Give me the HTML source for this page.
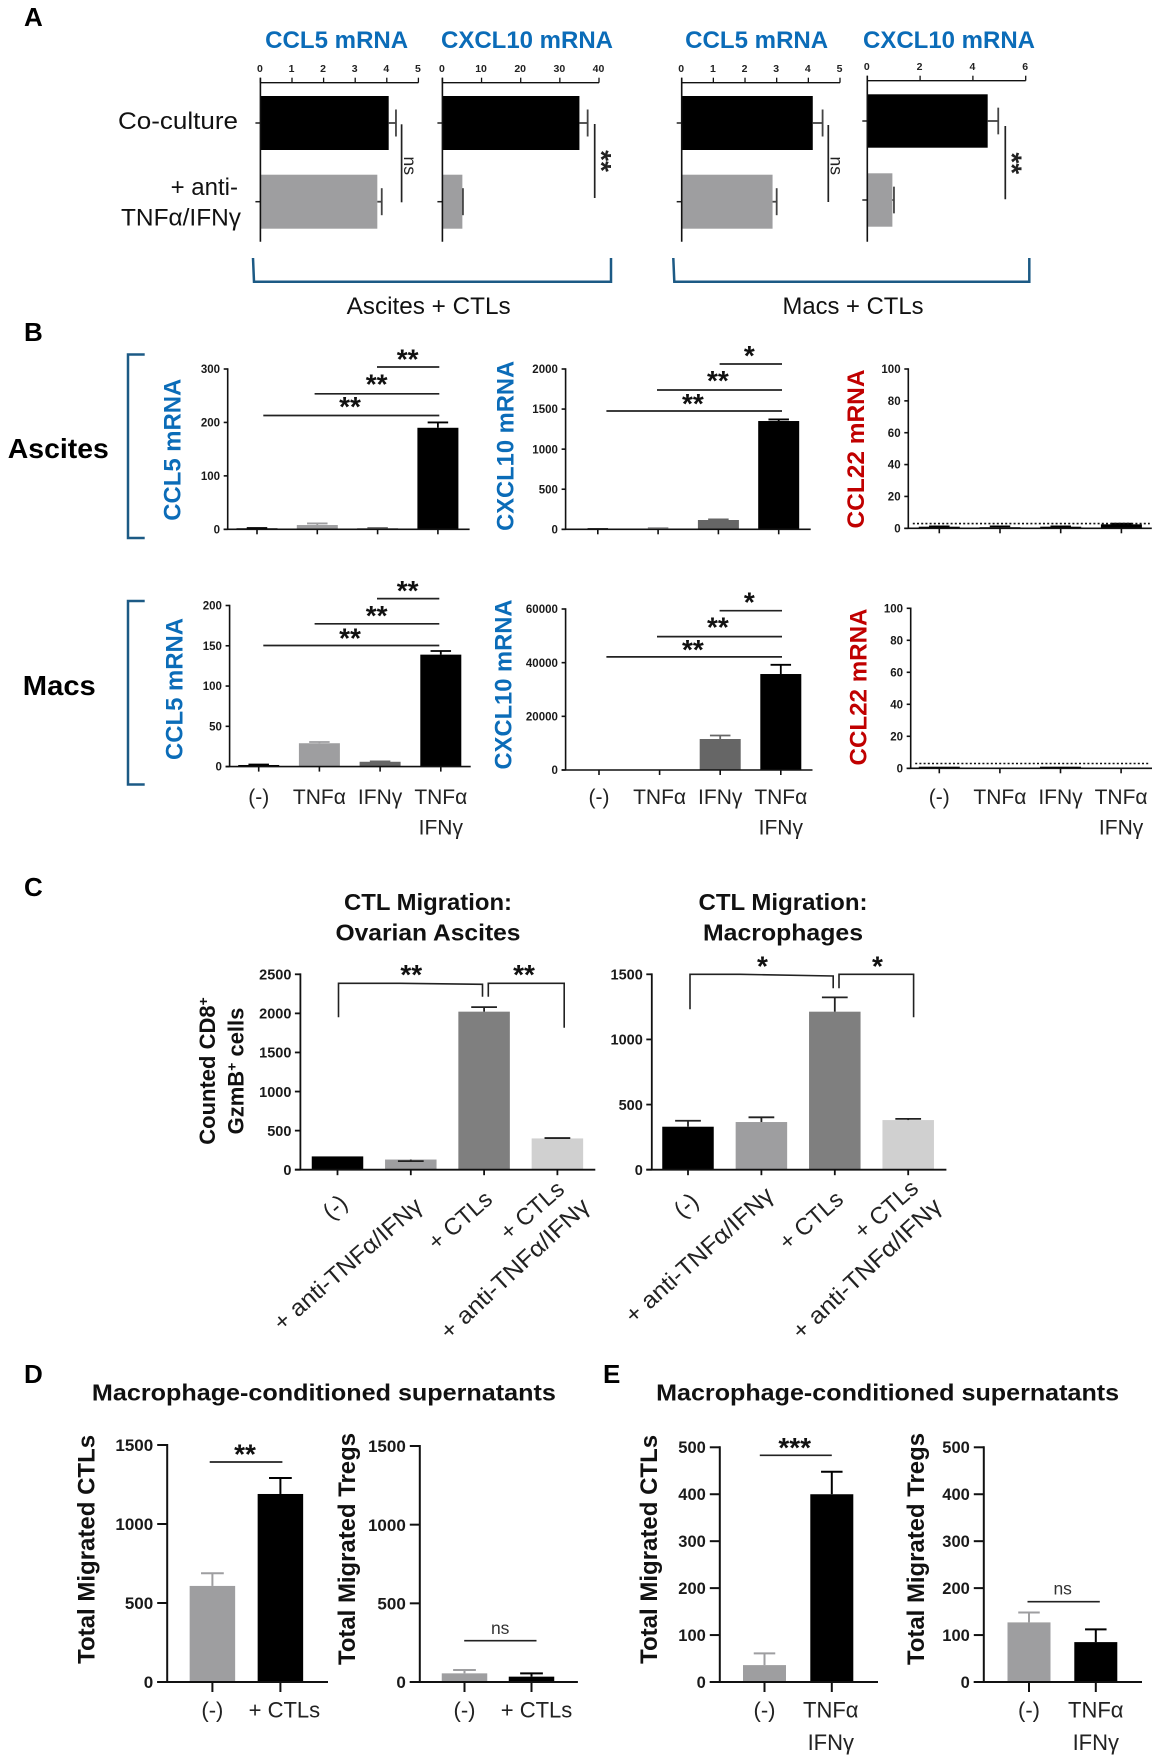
<!DOCTYPE html>
<html lang="en">
<head>
<meta charset="utf-8">
<title>CTL chemokine and migration figure</title>
<style>
html,body{margin:0;padding:0;background:#fff;}
#figure{display:block;width:1160px;height:1762px;filter:blur(0.35px);}
text{font-family:"Liberation Sans",sans-serif;fill:#111;}
.letter{font-size:26px;font-weight:bold;fill:#000;}
.blue{font-size:24px;font-weight:bold;fill:#0b6cb8;}
.red{font-size:24px;font-weight:bold;fill:#c00000;}
.reg24{font-size:24px;}
.title{font-size:23px;font-weight:bold;}
.rowlab{font-size:28px;font-weight:bold;fill:#000;}
.ytitle{font-size:24px;font-weight:bold;}
.ytitle22{font-size:22px;font-weight:bold;}
.rot{font-size:23.5px;fill:#222;}
</style>
</head>
<body>
<svg id="figure" xmlns="http://www.w3.org/2000/svg" width="1160" height="1762" viewBox="0 0 1160 1762">
  <rect x="0" y="0" width="1160" height="1762" fill="#fff"/>

  <!-- panel letters -->
  <text class="letter" x="24" y="26">A</text>
  <text class="letter" x="24" y="341">B</text>
  <text class="letter" x="24" y="896">C</text>
  <text class="letter" x="24" y="1383">D</text>
  <text class="letter" x="603" y="1383">E</text>

  <!-- panel A static text -->
  <text class="blue" x="336.7" y="48" text-anchor="middle" textLength="143" lengthAdjust="spacingAndGlyphs">CCL5 mRNA</text>
  <text class="blue" x="527" y="48" text-anchor="middle" textLength="172" lengthAdjust="spacingAndGlyphs">CXCL10 mRNA</text>
  <text class="blue" x="756.7" y="48" text-anchor="middle" textLength="143" lengthAdjust="spacingAndGlyphs">CCL5 mRNA</text>
  <text class="blue" x="949" y="48" text-anchor="middle" textLength="172" lengthAdjust="spacingAndGlyphs">CXCL10 mRNA</text>
  <text class="reg24" x="238" y="129" text-anchor="end" textLength="120" lengthAdjust="spacingAndGlyphs">Co-culture</text>
  <text class="reg24" x="238" y="195" text-anchor="end">+ anti-</text>
  <text class="reg24" x="241" y="225.5" text-anchor="end" textLength="120" lengthAdjust="spacingAndGlyphs">TNFα/IFNγ</text>
  <path d="M253 258 L254 281.7 L611 281.7 L611 258" fill="none" stroke="#1c5a85" stroke-width="2.5"/>
  <path d="M673.3 258 L674.3 281.7 L1029.3 281.7 L1029.3 258" fill="none" stroke="#1c5a85" stroke-width="2.5"/>
  <text class="reg24" x="428.6" y="314" text-anchor="middle" textLength="164" lengthAdjust="spacingAndGlyphs">Ascites + CTLs</text>
  <text class="reg24" x="853" y="314" text-anchor="middle" textLength="141" lengthAdjust="spacingAndGlyphs">Macs + CTLs</text>

  <!-- panel B static text -->
  <text class="rowlab" x="58.3" y="458" text-anchor="middle" textLength="101" lengthAdjust="spacingAndGlyphs">Ascites</text>
  <text class="rowlab" x="59.3" y="695" text-anchor="middle" textLength="73" lengthAdjust="spacingAndGlyphs">Macs</text>
  <path d="M144.7 354.5 H128 V538 H144.7" fill="none" stroke="#1c5a85" stroke-width="2.5"/>
  <path d="M144.7 601 H128 V784.5 H144.7" fill="none" stroke="#1c5a85" stroke-width="2.5"/>
  <text class="blue" transform="translate(172,449.7) rotate(-90)" text-anchor="middle" dy=".36em" textLength="142" lengthAdjust="spacingAndGlyphs">CCL5 mRNA</text>
  <text class="blue" transform="translate(505,445.9) rotate(-90)" text-anchor="middle" dy=".36em" textLength="170" lengthAdjust="spacingAndGlyphs">CXCL10 mRNA</text>
  <text class="red" transform="translate(855.4,449) rotate(-90)" text-anchor="middle" dy=".36em" textLength="159" lengthAdjust="spacingAndGlyphs">CCL22 mRNA</text>
  <text class="blue" transform="translate(174,689) rotate(-90)" text-anchor="middle" dy=".36em" textLength="142" lengthAdjust="spacingAndGlyphs">CCL5 mRNA</text>
  <text class="blue" transform="translate(503,684.5) rotate(-90)" text-anchor="middle" dy=".36em" textLength="170" lengthAdjust="spacingAndGlyphs">CXCL10 mRNA</text>
  <text class="red" transform="translate(857.9,687) rotate(-90)" text-anchor="middle" dy=".36em" textLength="157" lengthAdjust="spacingAndGlyphs">CCL22 mRNA</text>

  <!-- panel C static text -->
  <text class="title" x="428" y="910" text-anchor="middle" textLength="168" lengthAdjust="spacingAndGlyphs">CTL Migration:</text>
  <text class="title" x="428" y="940.5" text-anchor="middle" textLength="185" lengthAdjust="spacingAndGlyphs">Ovarian Ascites</text>
  <text class="title" x="783" y="910" text-anchor="middle" textLength="169" lengthAdjust="spacingAndGlyphs">CTL Migration:</text>
  <text class="title" x="783" y="940.5" text-anchor="middle" textLength="160" lengthAdjust="spacingAndGlyphs">Macrophages</text>
  <text class="ytitle22" transform="translate(207,1071) rotate(-90)" text-anchor="middle" dy=".36em">Counted CD8<tspan font-size="14" dy="-7">+</tspan></text>
  <text class="ytitle22" transform="translate(235.4,1071) rotate(-90)" text-anchor="middle" dy=".36em">GzmB<tspan font-size="14" dy="-7">+</tspan><tspan dy="7"> cells</tspan></text>
  <text class="rot" transform="translate(334.6,1206.7) rotate(-42)" text-anchor="middle" dy=".36em">(-)</text>
  <text class="rot" transform="translate(420,1204) rotate(-41)" text-anchor="end" dy=".25em" textLength="188" lengthAdjust="spacingAndGlyphs">+ anti-TNFα/IFNγ</text>
  <text class="rot" transform="translate(490,1197) rotate(-41)" text-anchor="end" dy=".25em" textLength="76" lengthAdjust="spacingAndGlyphs">+ CTLs</text>
  <text class="rot" transform="translate(562,1187) rotate(-41)" text-anchor="end" dy=".25em" textLength="76" lengthAdjust="spacingAndGlyphs">+ CTLs</text>
  <text class="rot" transform="translate(587,1204) rotate(-43)" text-anchor="end" dy=".25em" textLength="194" lengthAdjust="spacingAndGlyphs">+ anti-TNFα/IFNγ</text>
  <text class="rot" transform="translate(685.7,1205) rotate(-42)" text-anchor="middle" dy=".36em">(-)</text>
  <text class="rot" transform="translate(771,1193) rotate(-42)" text-anchor="end" dy=".25em" textLength="190" lengthAdjust="spacingAndGlyphs">+ anti-TNFα/IFNγ</text>
  <text class="rot" transform="translate(841,1197) rotate(-41)" text-anchor="end" dy=".25em" textLength="76" lengthAdjust="spacingAndGlyphs">+ CTLs</text>
  <text class="rot" transform="translate(916,1186) rotate(-41)" text-anchor="end" dy=".25em" textLength="76" lengthAdjust="spacingAndGlyphs">+ CTLs</text>
  <text class="rot" transform="translate(939,1204) rotate(-43)" text-anchor="end" dy=".25em" textLength="194" lengthAdjust="spacingAndGlyphs">+ anti-TNFα/IFNγ</text>
  <path d="M338.5 1017.3 V983.3 L400 983.3 L482.5 984.3 V996.7" fill="none" stroke="#222" stroke-width="1.6"/>
  <path d="M488.3 996.7 V983.3 H564.2 V1027.7" fill="none" stroke="#222" stroke-width="1.6"/>
  <path d="M690 1009.3 V974.3 L740 974.3 L833.2 976 V988.3" fill="none" stroke="#222" stroke-width="1.6"/>
  <path d="M839 988.3 V974.3 H913.6 V1017.3" fill="none" stroke="#222" stroke-width="1.6"/>

  <!-- panels D and E static text -->
  <text class="title" x="323.9" y="1400.5" text-anchor="middle" textLength="464" lengthAdjust="spacingAndGlyphs">Macrophage-conditioned supernatants</text>
  <text class="title" x="887.6" y="1400.5" text-anchor="middle" textLength="463" lengthAdjust="spacingAndGlyphs">Macrophage-conditioned supernatants</text>
  <text class="ytitle" transform="translate(86,1549.4) rotate(-90)" text-anchor="middle" dy=".36em" textLength="229" lengthAdjust="spacingAndGlyphs">Total Migrated CTLs</text>
  <text class="ytitle" transform="translate(346.3,1549) rotate(-90)" text-anchor="middle" dy=".36em" textLength="232" lengthAdjust="spacingAndGlyphs">Total Migrated Tregs</text>
  <text class="ytitle" transform="translate(648.2,1549.4) rotate(-90)" text-anchor="middle" dy=".36em" textLength="229" lengthAdjust="spacingAndGlyphs">Total Migrated CTLs</text>
  <text class="ytitle" transform="translate(915.5,1549) rotate(-90)" text-anchor="middle" dy=".36em" textLength="232" lengthAdjust="spacingAndGlyphs">Total Migrated Tregs</text>
</svg>

<script>
// ---------- Panel A data ----------
const aAscitesCcl5Ticks = [0, 1, 2, 3, 4, 5];
const aAscitesCcl5Values = [4.06, 3.70];
const aAscitesCcl5Errors = [0.23, 0.14];
const aAscitesCxcl10Ticks = [0, 10, 20, 30, 40];
const aAscitesCxcl10Values = [35.0, 5.1];
const aAscitesCxcl10Errors = [2.1, 0.15];
const aMacsCcl5Ticks = [0, 1, 2, 3, 4, 5];
const aMacsCcl5Values = [4.14, 2.87];
const aMacsCcl5Errors = [0.31, 0.13];
const aMacsCxcl10Ticks = [0, 2, 4, 6];
const aMacsCxcl10Values = [4.56, 0.95];
const aMacsCxcl10Errors = [0.40, 0.06];

// ---------- Panel B data ----------
const bCategories = ['(-)', 'TNFα', 'IFNγ', 'TNFα\nIFNγ'];
const bAscitesCcl5Ticks = [0, 100, 200, 300];
const bAscitesCcl5Values = [2, 8, 2, 190];
const bAscitesCcl5Errors = [0.5, 3, 0.5, 10];
const bAscitesCxcl10Ticks = [0, 500, 1000, 1500, 2000];
const bAscitesCxcl10Values = [3, 10, 116, 1351];
const bAscitesCxcl10Errors = [1, 6, 8, 20];
const bAscitesCcl22Ticks = [0, 20, 40, 60, 80, 100];
const bAscitesCcl22Values = [1, 0.7, 1, 2.5];
const bAscitesCcl22Errors = [0.2, 0.5, 0.2, 0.4];
const bMacsCcl5Ticks = [0, 50, 100, 150, 200];
const bMacsCcl5Values = [2, 29, 6, 139];
const bMacsCcl5Errors = [0.5, 1.5, 0.5, 4.5];
const bMacsCxcl10Ticks = [0, 20000, 40000, 60000];
const bMacsCxcl10Values = [100, 150, 11550, 35770];
const bMacsCxcl10Errors = [0, 0, 1300, 3430];
const bMacsCcl22Ticks = [0, 20, 40, 60, 80, 100];
const bMacsCcl22Values = [1, 0.3, 1, 0.5];
const bMacsCcl22Errors = [0, 0, 0, 0];
const ccl22Threshold = [3];

// ---------- Panel C data ----------
const cAscitesTicks = [0, 500, 1000, 1500, 2000, 2500];
const cAscitesValues = [170, 130, 2022, 400];
const cAscitesErrors = [0, -20, 58, 5];
const cMacsTicks = [0, 500, 1000, 1500];
const cMacsValues = [330, 366, 1213, 381];
const cMacsErrors = [46, 36, 110, 9];

// ---------- Panels D / E data ----------
const dCategories = ['(-)', '+ CTLs'];
const dCtlTicks = [0, 500, 1000, 1500];
const dCtlValues = [608, 1190];
const dCtlErrors = [80, 101];
const dTregTicks = [0, 500, 1000, 1500];
const dTregValues = [55, 34];
const dTregErrors = [21, 21];
const eCategories = ['(-)', 'TNFα\nIFNγ'];
const eCtlTicks = [0, 100, 200, 300, 400, 500];
const eCtlValues = [36, 400];
const eCtlErrors = [25, 48];
const eTregTicks = [0, 100, 200, 300, 400, 500];
const eTregValues = [127, 85];
const eTregErrors = [21, 27];

const NS = 'http://www.w3.org/2000/svg';
const figure = document.getElementById('figure');
const STAR_DROP = 13;

function mk(parent, tag, name, geom) {
  const node = document.createElementNS(NS, tag);
  for (const k in geom) node.setAttribute(k, geom[k]);
  
  
  parent.appendChild(node);
  return node;
}
function ln(parent, name, x1, y1, x2, y2, w, color) {
  return mk(parent, 'line', name, {x1: x1, y1: y1, x2: x2, y2: y2, stroke: color, 'stroke-width': w});
}
function label(parent, name, str, x, y, size, bold, anchor, color) {
  const t = mk(parent, 'text', name, {x: x, y: y, 'text-anchor': anchor, 'font-size': size, 'font-weight': bold ? 'bold' : 'normal'});
  t.style.fill = color || '#111';
  t.textContent = str;
  return t;
}

// Vertical (column) chart: every bar and error bar is derived from the value arrays via yScale / xBand.
function columnChart(name, o, ticks, values, errors, categories) {
  const g = mk(figure, 'g', name, {});
  const yMax = ticks[ticks.length - 1];
  const yScale = v => o.y0 - (v / yMax) * (o.y0 - o.yTop);
  const xBand = i => o.first + i * o.step;
  values.forEach((v, i) => {
    const cx = xBand(i), top = yScale(v), color = o.colors[i];
    mk(g, 'rect', name + '-bar-' + i, {x: cx - o.barW / 2, y: top, width: o.barW, height: Math.max(0, o.y0 - top), fill: color});
    if (errors[i] !== 0) {
      const ec = o.errColor || color, ey = yScale(v + errors[i]);
      ln(g, name + '-error-stem-' + i, cx, top, cx, ey, o.errW || 2, ec);
      ln(g, name + '-error-cap-' + i, cx - o.barW / 4, ey, cx + o.barW / 4, ey, o.errW || 2, ec);
    }
  });
  const w = o.axisW || 1.8;
  ln(g, name + '-y-axis', o.axisX, o.yTop - w / 2, o.axisX, o.y0, w, '#111');
  ln(g, name + '-x-axis', o.axisX - o.tickLen, o.y0, o.xEnd, o.y0, w, '#111');
  ticks.forEach(t => {
    const y = yScale(t);
    ln(g, name + '-y-tick-' + t, o.axisX - o.tickLen, y, o.axisX, y, w, '#111');
    label(g, name + '-y-tick-label-' + t, String(t), o.axisX - o.labelGap, y + o.tickFont * 0.36, o.tickFont, true, 'end', '#1a1a1a');
  });
  values.forEach((v, i) => {
    ln(g, name + '-x-tick-' + i, xBand(i), o.y0, xBand(i), o.y0 + o.xTickLen, w, '#111');
  });
  if (categories) {
    categories.forEach((c, i) => {
      const shift = i * (o.catShift || 0);
      c.split('\n').forEach((part, j) => {
        label(g, name + '-x-label-' + i + '-' + j, part, xBand(i) + shift, o.catY + j * o.catLead, o.catFont, false, 'middle', '#222');
      });
    });
  }
  if (o.threshold !== undefined) {
    const d = ln(g, name + '-threshold-line', o.axisX + 4.5, yScale(o.threshold), o.xEnd - 2, yScale(o.threshold), 1.6, '#111');
    d.setAttribute('stroke-dasharray', '2 2.2');
  }
}

// Horizontal chart used in panel A: axis on top, bars grow right from the value arrays via xScale.
function rowChart(name, o, ticks, values, errors) {
  const g = mk(figure, 'g', name, {});
  const xMax = ticks[ticks.length - 1];
  const xScale = v => o.x0 + (v / xMax) * (o.x1 - o.x0);
  const yBand = i => o.firstRow + i * o.rowStep;
  values.forEach((v, i) => {
    const cy = yBand(i), end = xScale(v);
    mk(g, 'rect', name + '-bar-' + i, {x: o.x0, y: cy - o.barH / 2, width: end - o.x0, height: o.barH, fill: o.colors[i]});
    const ex = xScale(v + errors[i]);
    ln(g, name + '-error-stem-' + i, end, cy, ex, cy, 1.8, '#444');
    ln(g, name + '-error-cap-' + i, ex, cy - o.barH / 4, ex, cy + o.barH / 4, 1.8, '#444');
    ln(g, name + '-row-tick-' + i, o.x0 - 5, cy, o.x0, cy, 1.5, '#222');
  });
  ln(g, name + '-x-axis', o.x0, o.axisY, o.x1, o.axisY, 1.4, '#111');
  ln(g, name + '-y-axis', o.x0, o.axisY - 5, o.x0, o.bottom, 1.6, '#111');
  ticks.forEach(t => {
    const x = xScale(t);
    ln(g, name + '-x-tick-' + t, x, o.axisY - 5, x, o.axisY, 1.3, '#111');
    label(g, name + '-x-tick-label-' + t, String(t), x - 0.5, o.axisY - 10.5, 10.5, true, 'middle', '#222');
  });
}

// Significance bars and their printed labels.
function sigH(name, x1, x2, y, text, lx, ly) {
  const g = mk(figure, 'g', name, {});
  ln(g, name + '-line', x1, y, x2, y, 1.7, '#222');
  if (text.charAt(0) === '*') {
    label(g, name + '-label', text, lx, ly + STAR_DROP, 28, true, 'middle', '#111');
  } else {
    label(g, name + '-label', text, lx, ly + 6.3, 17.5, false, 'middle', '#333');
  }
}
function sigV(name, x, y1, y2, text, lx, ly) {
  const g = mk(figure, 'g', name, {});
  ln(g, name + '-line', x, y1, x, y2, 1.7, '#222');
  const isStar = text.charAt(0) === '*';
  const t = label(g, name + '-label', text, 0, isStar ? STAR_DROP : 6, isStar ? 28 : 17.5, isStar, 'middle', '#222');
  t.setAttribute('transform', 'translate(' + lx + ',' + ly + ') rotate(90)');
}
function starOnly(name, text, lx, ly) {
  label(figure, name, text, lx, ly + STAR_DROP, 28, true, 'middle', '#111');
}

// ---------- Panel A ----------
const aColors = ['#000000', '#9e9ea0'];
rowChart('a-ascites-ccl5', {x0: 260.4, x1: 418.4, axisY: 82.7, bottom: 241.7, firstRow: 123, rowStep: 78.7, barH: 54, colors: aColors}, aAscitesCcl5Ticks, aAscitesCcl5Values, aAscitesCcl5Errors);
rowChart('a-ascites-cxcl10', {x0: 442.4, x1: 599, axisY: 82.7, bottom: 241.7, firstRow: 123, rowStep: 78.7, barH: 54, colors: aColors}, aAscitesCxcl10Ticks, aAscitesCxcl10Values, aAscitesCxcl10Errors);
rowChart('a-macs-ccl5', {x0: 681.7, x1: 840, axisY: 82.7, bottom: 241.7, firstRow: 123, rowStep: 78.7, barH: 54, colors: aColors}, aMacsCcl5Ticks, aMacsCcl5Values, aMacsCcl5Errors);
rowChart('a-macs-cxcl10', {x0: 867.3, x1: 1025.7, axisY: 80.7, bottom: 241.7, firstRow: 121, rowStep: 79, barH: 53.4, colors: aColors}, aMacsCxcl10Ticks, aMacsCxcl10Values, aMacsCxcl10Errors);
sigV('a-ascites-ccl5-sig', 401.6, 124.3, 202.3, 'ns', 410, 165.7);
sigV('a-ascites-cxcl10-sig', 594.7, 124, 198, '**', 605, 161);
sigV('a-macs-ccl5-sig', 828.3, 125, 202, 'ns', 836.7, 165.7);
sigV('a-macs-cxcl10-sig', 1005.3, 126, 199.3, '**', 1015.7, 163.3);

// ---------- Panel B ----------
const bColorsMixed = ['#000000', '#9e9ea0', '#666666', '#000000'];
const bColorsBlack = ['#000000', '#000000', '#000000', '#000000'];
const bTop = {tickLen: 4, labelGap: 7.7, tickFont: 11.5, xTickLen: 5, barW: 41, axisW: 1.6, errW: 1.8, catY: 804, catLead: 30.5, catFont: 21};
columnChart('b-ascites-ccl5', Object.assign({}, bTop, {axisX: 227.7, y0: 529.3, yTop: 369, xEnd: 469.6, first: 257, step: 60.3, colors: bColorsMixed}), bAscitesCcl5Ticks, bAscitesCcl5Values, bAscitesCcl5Errors, null);
columnChart('b-ascites-cxcl10', Object.assign({}, bTop, {axisX: 565.6, y0: 529.3, yTop: 369, xEnd: 810.7, first: 597.8, step: 60.3, colors: bColorsMixed}), bAscitesCxcl10Ticks, bAscitesCxcl10Values, bAscitesCxcl10Errors, null);
columnChart('b-ascites-ccl22', Object.assign({}, bTop, {axisX: 908.3, y0: 528.3, yTop: 369, xEnd: 1151.8, first: 939.3, step: 60.7, colors: bColorsBlack, threshold: ccl22Threshold[0]}), bAscitesCcl22Ticks, bAscitesCcl22Values, bAscitesCcl22Errors, null);
columnChart('b-macs-ccl5', Object.assign({}, bTop, {axisX: 229.6, y0: 766.6, yTop: 605.5, xEnd: 470.7, first: 258.7, step: 60.7, colors: bColorsMixed}), bMacsCcl5Ticks, bMacsCcl5Values, bMacsCcl5Errors, bCategories);
columnChart('b-macs-cxcl10', Object.assign({}, bTop, {axisX: 565.6, y0: 770, yTop: 609, xEnd: 812.5, first: 599, step: 60.6, colors: bColorsMixed}), bMacsCxcl10Ticks, bMacsCxcl10Values, bMacsCxcl10Errors, bCategories);
columnChart('b-macs-ccl22', Object.assign({}, bTop, {axisX: 910.7, y0: 768.3, yTop: 608.3, xEnd: 1152, first: 939.3, step: 60.6, colors: bColorsBlack, threshold: ccl22Threshold[0]}), bMacsCcl22Ticks, bMacsCcl22Values, bMacsCcl22Errors, bCategories);

sigH('b-ascites-ccl5-sig-1', 377, 439.3, 367, '**', 407.6, 355.5);
sigH('b-ascites-ccl5-sig-2', 314.6, 439.3, 393.8, '**', 376.6, 380.3);
sigH('b-ascites-ccl5-sig-3', 263.3, 439.3, 415.5, '**', 350, 402.8);
sigH('b-macs-ccl5-sig-1', 377, 439.3, 598.6, '**', 407.6, 587.2);
sigH('b-macs-ccl5-sig-2', 314.6, 439.3, 623.8, '**', 376.6, 612);
sigH('b-macs-ccl5-sig-3', 263.3, 439.3, 645.5, '**', 350, 634.5);
sigH('b-ascites-cxcl10-sig-1', 719.6, 782, 364, '*', 749.3, 352);
sigH('b-ascites-cxcl10-sig-2', 657, 782, 390, '**', 717.9, 376.9);
sigH('b-ascites-cxcl10-sig-3', 606.4, 782, 411, '**', 692.9, 400);
sigH('b-macs-cxcl10-sig-1', 719.6, 782, 610.7, '*', 749.3, 598.6);
sigH('b-macs-cxcl10-sig-2', 657, 782, 636.6, '**', 717.9, 623.4);
sigH('b-macs-cxcl10-sig-3', 606.4, 782, 656.9, '**', 692.9, 646.2);

// ---------- Panel C ----------
const cColors = ['#000000', '#9e9ea0', '#7f7f7f', '#d0d0d0'];
const cBase = {tickLen: 5.5, labelGap: 9, tickFont: 14.5, xTickLen: 5.5, barW: 51.5, axisW: 1.8, errColor: '#222', errW: 1.8, colors: cColors};
columnChart('c-ascites', Object.assign({}, cBase, {axisX: 300.4, y0: 1169.7, yTop: 974.3, xEnd: 595.3, first: 337.5, step: 73.3}), cAscitesTicks, cAscitesValues, cAscitesErrors, null);
columnChart('c-macs', Object.assign({}, cBase, {axisX: 651.8, y0: 1169.7, yTop: 974.3, xEnd: 946.4, first: 688, step: 73.4}), cMacsTicks, cMacsValues, cMacsErrors, null);
starOnly('c-ascites-sig-left-label', '**', 411.3, 971);
starOnly('c-ascites-sig-right-label', '**', 524, 971);
starOnly('c-macs-sig-left-label', '*', 762.5, 962.7);
starOnly('c-macs-sig-right-label', '*', 877.5, 962.7);

// ---------- Panels D and E ----------
const dColors = ['#9e9ea0', '#000000'];
const dBase = {tickLen: 10, labelGap: 14, tickFont: 17, xTickLen: 10, barW: 45.5, axisW: 2, errW: 2, colors: dColors, catY: 1717.5, catLead: 32.5, catFont: 22};
columnChart('d-ctl', Object.assign({}, dBase, {axisX: 167.2, y0: 1682, yTop: 1445, xEnd: 328, first: 212.4, step: 68, catShift: 4}), dCtlTicks, dCtlValues, dCtlErrors, dCategories);
columnChart('d-treg', Object.assign({}, dBase, {axisX: 419.8, y0: 1682, yTop: 1446, xEnd: 577.9, first: 464.5, step: 67, catShift: 5}), dTregTicks, dTregValues, dTregErrors, dCategories);
columnChart('e-ctl', Object.assign({}, dBase, {axisX: 719.8, y0: 1682, yTop: 1447.3, xEnd: 878, first: 764.5, step: 67.3, barW: 43, tickFont: 16.5, catShift: -1}), eCtlTicks, eCtlValues, eCtlErrors, eCategories);
columnChart('e-treg', Object.assign({}, dBase, {axisX: 983.8, y0: 1682, yTop: 1447.3, xEnd: 1142, first: 1029, step: 66.8, barW: 43, tickFont: 16.5}), eTregTicks, eTregValues, eTregErrors, eCategories);
sigH('d-ctl-sig', 209.7, 282.4, 1462, '**', 245, 1450.7);
sigH('d-treg-sig', 464.2, 536.5, 1640.7, 'ns', 500.2, 1627.7);
sigH('e-ctl-sig', 759.8, 831.8, 1455.3, '***', 794.7, 1444);
sigH('e-treg-sig', 1027.5, 1099.8, 1601.7, 'ns', 1062.7, 1588.3);
</script>
</body>
</html>
